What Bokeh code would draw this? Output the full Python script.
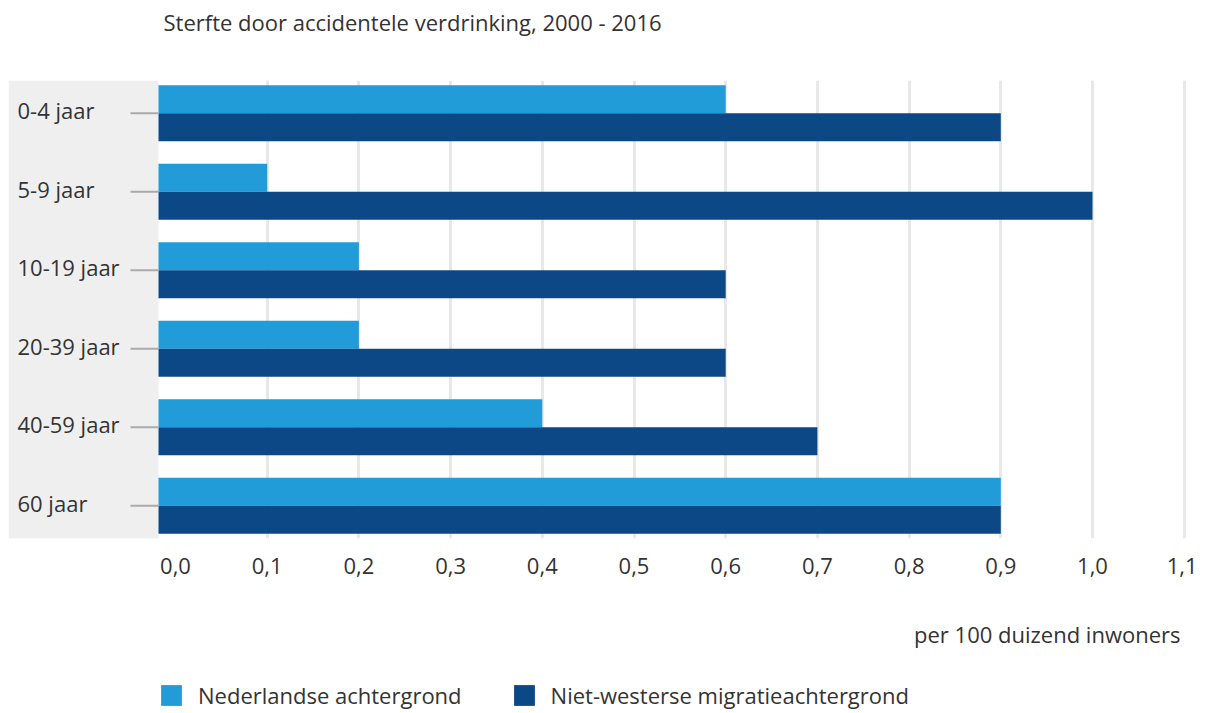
from bokeh.plotting import figure
from bokeh.layouts import column
from bokeh.models import (ColumnDataSource, FactorRange, Range1d, BoxAnnotation, FixedTicker,
                          CustomJSTickFormatter, Legend, LegendItem, Title)
from bokeh.transform import dodge
from bokeh.core.properties import value
from bokeh.embed import file_html
from bokeh.resources import INLINE

# ---- data ----
categories = ["0-4 jaar", "5-9 jaar", "10-19 jaar", "20-39 jaar", "40-59 jaar", "60 jaar"]
nederlandse = [0.6, 0.1, 0.2, 0.2, 0.4, 0.9]
niet_westerse = [0.9, 1.0, 0.6, 0.6, 0.7, 0.9]
series_names = ["Nederlandse achtergrond", "Niet-westerse migratieachtergrond"]
x_ticks = [0.0, 0.1, 0.2, 0.3, 0.4, 0.5, 0.6, 0.7, 0.8, 0.9, 1.0, 1.1]
title_text = "Sterfte door accidentele verdrinking, 2000 - 2016"
unit_text = "per 100 duizend inwoners"

# ---- style ----
LIGHT = "#219cd8"
DARK = "#0b4885"
BAND = "#efefef"
GRID = "#e8e8e8"
TICK = "#aaaaaa"
TEXT = "#333333"
FONT = "Open Sans"
FS = "22px"

FRAME_W = 1185
FRAME_H = 458
PX_PER_UNIT = 917.0
ZERO_PX = 167.0            # pixel offset of value 0 from frame left
X_MIN = -ZERO_PX / PX_PER_UNIT
X_MAX = (FRAME_W - ZERO_PX) / PX_PER_UNIT
BAR_BASE = -17.0 / PX_PER_UNIT
BAR_H = 0.357
TICK_LEN = 28.0 / PX_PER_UNIT

src = ColumnDataSource(dict(cat=categories, ned=nederlandse, nw=niet_westerse))

p = figure(
    y_range=FactorRange(factors=categories[::-1], range_padding=-0.083, range_padding_units="absolute"),
    x_range=Range1d(X_MIN, X_MAX),
    frame_width=FRAME_W, frame_height=FRAME_H,
    output_backend="svg", toolbar_location=None,
    min_border_left=8, min_border_right=4, min_border_top=80, min_border_bottom=0,
)
p.outline_line_color = None
p.background_fill_color = "white"
p.border_fill_color = "white"

band = BoxAnnotation(right=BAR_BASE, fill_color=BAND, fill_alpha=1.0, line_color=None, level="underlay")
p.add_layout(band)

p.hbar(y=dodge("cat", BAR_H / 2, range=p.y_range), left=BAR_BASE, right="ned", height=BAR_H,
       fill_color=LIGHT, line_color=None, source=src)
p.hbar(y=dodge("cat", -BAR_H / 2, range=p.y_range), left=BAR_BASE, right="nw", height=BAR_H,
       fill_color=DARK, line_color=None, source=src)

# category tick marks and labels
p.segment(x0=BAR_BASE - TICK_LEN, x1=BAR_BASE, y0="cat", y1="cat", line_color=TICK, line_width=2, source=src)
p.text(x=X_MIN, y="cat", text="cat", x_offset=9, y_offset=-3, text_align="left", text_baseline="middle",
       text_font=value(FONT), text_font_size=FS, text_color=TEXT, source=src)

p.yaxis.visible = False
p.ygrid.visible = False

ax = p.xaxis[0]
ax.ticker = FixedTicker(ticks=x_ticks)
ax.formatter = CustomJSTickFormatter(code="return tick.toFixed(1).replace('.', ',');")
ax.axis_line_color = None
ax.major_tick_line_color = None
ax.minor_tick_line_color = None
ax.major_label_text_font = FONT
ax.major_label_text_font_size = FS
ax.major_label_text_color = TEXT
ax.major_label_standoff = 13

p.xgrid.ticker = FixedTicker(ticks=x_ticks[1:])
p.xgrid.grid_line_color = GRID
p.xgrid.grid_line_width = 3

p.title.text = title_text
p.title.align = "left"
p.title.offset = 155
p.title.text_font = FONT
p.title.text_font_size = FS
p.title.text_font_style = "normal"
p.title.text_color = TEXT
p.title.standoff = 0
p.title.padding = dict(left=0, right=0, top=0, bottom=44)

p.add_layout(Title(text=unit_text, align="right", offset=13, text_font=FONT, text_font_size=FS,
                   text_font_style="normal", text_color=TEXT, standoff=0,
                   padding=dict(left=0, right=0, top=40, bottom=0)), "below")

# ---- legend strip (same series as zero-height bars outside the view, so only the legend shows) ----
pl = figure(width=FRAME_W + 12, height=62, x_range=Range1d(5, 6), y_range=FactorRange(factors=categories),
            output_backend="svg", toolbar_location=None,
            min_border_left=8, min_border_right=4, min_border_top=0, min_border_bottom=0)
pl.axis.visible = False
pl.grid.visible = False
pl.outline_line_color = None
pl.border_fill_color = "white"
pl.background_fill_color = "white"
l1 = pl.hbar(y="cat", left=BAR_BASE, right="ned", height=0, fill_color=LIGHT, line_color=None, source=src)
l2 = pl.hbar(y="cat", left=BAR_BASE, right="nw", height=0, fill_color=DARK, line_color=None, source=src)

legend = Legend(items=[LegendItem(label=series_names[0], renderers=[l1]),
                       LegendItem(label=series_names[1], renderers=[l2])],
                orientation="horizontal", location=(150, 0),
                glyph_width=26, glyph_height=26, label_standoff=14, spacing=49,
                label_text_font=FONT, label_text_font_size=FS, label_text_color=TEXT,
                border_line_color=None, background_fill_alpha=0, padding=0, margin=0)
pl.add_layout(legend)

layout = column(p, pl, spacing=0)
open("out.html", "w").write(file_html(layout, INLINE))
